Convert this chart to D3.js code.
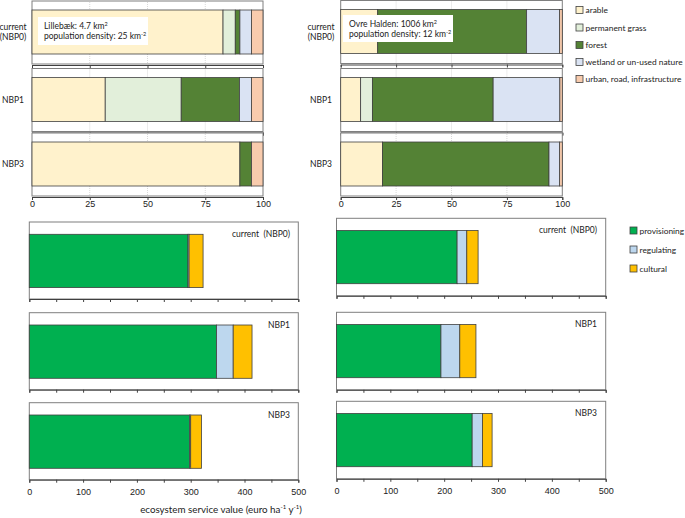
<!DOCTYPE html>
<html>
<head>
<meta charset="utf-8">
<script src="https://cdn.jsdelivr.net/npm/d3@7"></script>
<style>
  body { margin: 0; background: #fff; }
  svg { display: block; font-family: Lato, "Open Sans", sans-serif; }
</style>
</head>
<body>
<svg id="chart" width="685" height="518"></svg>
<script>
// ---------- data ----------
const scenarios = ["current (NBP0)", "NBP1", "NBP3"];
const landCategories = ["arable", "permanent grass", "forest", "wetland or un-used nature", "urban, road, infrastructure"];
const landColors = ["#fff2cc", "#e2efda", "#548235", "#dae3f3", "#f8cbad"];
// percentage of catchment area, per scenario
const lillebaekLand = [
  [82.7, 5.3, 2.0, 5.0, 5.0],
  [31.7, 32.9, 25.2, 5.2, 5.0],
  [90.0, 0, 5.0, 0, 5.0]
];
const haldenLand = [
  [16.7, 0, 67.2, 14.9, 1.2],
  [9.0, 5.3, 54.5, 30.1, 1.1],
  [18.9, 0, 75.1, 4.8, 1.2]
];
const landTicks = [0, 25, 50, 75, 100];

const serviceCategories = ["provisioning", "regulating", "cultural"];
const serviceColors = ["#00b050", "#bdd7ee", "#ffc000"];
// euro per ha per year
const lillebaekServices = [
  [295, 2, 26],
  [348, 31, 35],
  [298, 2, 20]
];
const haldenServices = [
  [224, 18, 21],
  [194, 35, 30],
  [252, 19, 18]
];
const serviceTicks = [0, 100, 200, 300, 400, 500];
const serviceMinorTicks = [0, 50, 100, 150, 200, 250, 300, 350, 400, 450, 500];

const svg = d3.select("#chart");

function stackRows(rows, keys) {
  const objs = rows.map(r => { const o = {}; keys.forEach((k, i) => o[k] = r[i]); return o; });
  return d3.stack().keys(keys)(objs);
}

// ---------- top land-use panels ----------
function landPanel(opts) {
  const x = d3.scaleLinear().domain([0, 100]).range([opts.x0, opts.x1]);
  const g = svg.append("g");
  const series = stackRows(opts.data, landCategories);
  opts.tops.forEach((top, si) => {
    const h = opts.height;
    g.append("rect").attr("x", opts.x0).attr("y", top).attr("width", opts.x1 - opts.x0).attr("height", h)
      .attr("fill", "#fff").attr("stroke", "#7f7f7f").attr("stroke-width", 1);
    g.selectAll(null).data([25, 50, 75]).join("line")
      .attr("x1", d => x(d)).attr("x2", d => x(d)).attr("y1", top + 1).attr("y2", top + h - 1)
      .attr("stroke", "#d9d9d9").attr("stroke-dasharray", "1,1");
    const by = top + opts.barOff, bh = opts.barH;
    series.forEach((s, ci) => {
      const d = s[si];
      if (d[1] - d[0] <= 0) return;
      g.append("rect").attr("x", x(d[0])).attr("y", by).attr("width", x(d[1]) - x(d[0])).attr("height", bh)
        .attr("fill", landColors[ci]).attr("stroke", "#404040").attr("stroke-width", 0.8);
    });
    const ax = g.append("g").attr("transform", `translate(0,${top + h + 1})`)
      .call(d3.axisBottom(x).tickValues(landTicks).tickSize(3).tickPadding(1)
        .tickFormat(si === 2 ? d3.format("d") : ""));
    ax.select(".domain").attr("stroke", "#404040");
    ax.selectAll(".tick line").attr("stroke", "#404040");
    ax.selectAll("text").attr("font-size", 9).attr("fill", "#222").attr("dy", "0.71em");
    const lbl = g.append("text").attr("text-anchor", "middle").attr("font-size", 8.5).attr("fill", "#222");
    if (si === 0) {
      lbl.append("tspan").attr("x", opts.labelX).attr("y", top + 29).text("current");
      lbl.append("tspan").attr("x", opts.labelX).attr("y", top + 39).text("(NBP0)");
    } else {
      lbl.attr("x", opts.labelX).attr("y", top + 34).text(scenarios[si]);
    }
  });
  const b = opts.box;
  g.append("rect").attr("x", b.x).attr("y", b.y).attr("width", b.w).attr("height", b.h).attr("fill", "#fff");
  const t1 = g.append("text").attr("x", b.x + 6).attr("y", b.y + 12).attr("font-size", 8.5).attr("fill", "#222");
  t1.append("tspan").text(b.line1 + " km");
  t1.append("tspan").attr("font-size", 5.5).attr("dy", -3.5).text("2");
  const t2 = g.append("text").attr("x", b.x + 6).attr("y", b.y + 22).attr("font-size", 8.5).attr("fill", "#222");
  t2.append("tspan").text("population density: " + b.line2 + " km");
  t2.append("tspan").attr("font-size", 5.5).attr("dy", -3.5).text("-2");
}

landPanel({ data: lillebaekLand, x0: 32, x1: 263, tops: [1, 68.5, 133], height: 63, barOff: 9, barH: 44,
  labelX: 13, box: { x: 38, y: 17, w: 110, h: 28, line1: "Lillebæk: 4.7", line2: "25" } });
landPanel({ data: haldenLand, x0: 340.7, x1: 562.3, tops: [0.5, 68.5, 133], height: 63, barOff: 9, barH: 44,
  labelX: 321, box: { x: 343, y: 15, w: 110, h: 27, line1: "Ovre Halden: 1006", line2: "12" } });

// ---------- bottom ecosystem service panels ----------
function servicePanel(opts) {
  const x = d3.scaleLinear().domain([0, 500]).range([opts.x0, opts.x1]);
  const g = svg.append("g");
  const series = stackRows(opts.data, serviceCategories);
  opts.tops.forEach((top, si) => {
    const h = opts.height;
    g.append("rect").attr("x", opts.x0).attr("y", top).attr("width", opts.x1 - opts.x0).attr("height", h)
      .attr("fill", "#fff").attr("stroke", "#7f7f7f").attr("stroke-width", 1);
    const by = top + opts.barOff, bh = opts.barH;
    series.forEach((s, ci) => {
      const d = s[si];
      if (d[1] - d[0] <= 0) return;
      g.append("rect").attr("x", x(d[0])).attr("y", by).attr("width", x(d[1]) - x(d[0])).attr("height", bh)
        .attr("fill", serviceColors[ci]).attr("stroke", "#404040").attr("stroke-width", 0.8);
    });
    const ax = g.append("g").attr("transform", `translate(0,${top + h})`)
      .call(d3.axisBottom(x).tickValues(serviceMinorTicks).tickSize(3).tickFormat(""));
    ax.select(".domain").attr("stroke", "#404040");
    ax.selectAll(".tick line").attr("stroke", "#404040");
    if (si === 2) {
      const lab = g.append("g").attr("transform", `translate(0,${top + h})`)
        .call(d3.axisBottom(x).tickValues(serviceTicks).tickSize(0).tickPadding(9));
      lab.select(".domain").remove();
      lab.selectAll("text").attr("font-size", 9).attr("fill", "#222");
    }
    g.append("text").attr("x", opts.labelX).attr("y", top + 15).attr("text-anchor", "end")
      .attr("font-size", 8.5).attr("fill", "#222").attr("xml:space", "preserve")
      .text(si === 0 ? "current  (NBP0)" : scenarios[si]);
  });
}

servicePanel({ data: lillebaekServices, x0: 29.3, x1: 298.3, tops: [222, 312.7, 402.7], height: 77,
  barOff: 12.3, barH: 53.3, labelX: 290 });
servicePanel({ data: haldenServices, x0: 336.5, x1: 605.7, tops: [218.3, 312.3, 401.3], height: 77.5,
  barOff: 12.2, barH: 53.2, labelX: 597 });

// axis title
const at = svg.append("text").attr("x", 221).attr("y", 513).attr("text-anchor", "middle")
  .attr("font-size", 9.8).attr("fill", "#222");
at.append("tspan").text("ecosystem service value (euro ha");
at.append("tspan").attr("font-size", 6).attr("dy", -4).text("-1");
at.append("tspan").attr("dy", 4).text(" y");
at.append("tspan").attr("font-size", 6).attr("dy", -4).text("-1");
at.append("tspan").attr("dy", 4).text(")");

// ---------- legends ----------
function legend(cats, colors, x, ys, fs) {
  const g = svg.append("g");
  cats.forEach((c, i) => {
    g.append("rect").attr("x", x).attr("y", ys[i] - 3.5).attr("width", 7).attr("height", 7)
      .attr("fill", colors[i]).attr("stroke", "#404040").attr("stroke-width", 0.8);
    g.append("text").attr("x", x + 9.5).attr("y", ys[i] + 3.2).attr("font-size", fs).attr("fill", "#222").text(c);
  });
}
legend(landCategories, landColors, 576, [10, 27.5, 45, 62, 79], 8.4);
legend(serviceCategories, serviceColors, 630, [230.5, 249.5, 268.5], 8.4);
</script>
</body>
</html>
